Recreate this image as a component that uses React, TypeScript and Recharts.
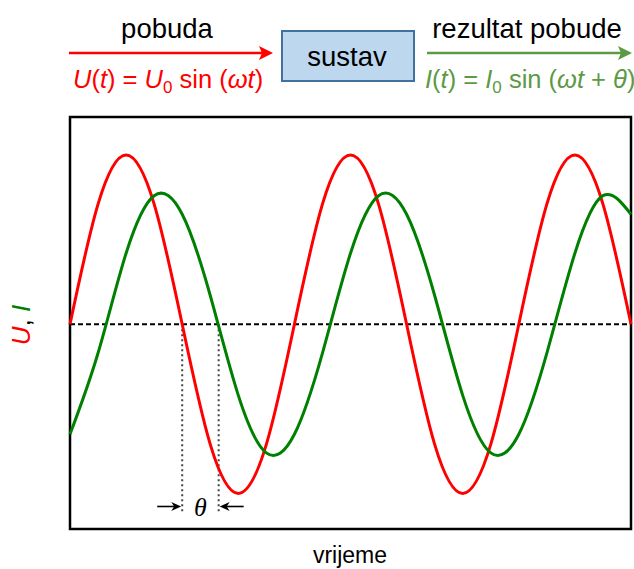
import { LineChart, Line, XAxis, YAxis, ReferenceLine, ReferenceArea, ReferenceDot } from "recharts"

// time in eighths of a period
const times = [0, 1, 2, 3, 4, 5, 6, 7, 8, 9, 10, 11, 12, 13, 14, 15, 16, 17, 18, 19, 20]
const excitation = [0, 0.71, 1, 0.71, 0, -0.71, -1, -0.71, 0, 0.71, 1, 0.71, 0, -0.71, -1, -0.71, 0, 0.71, 1, 0.71, 0]
const response = [-0.65, -0.17, 0.42, 0.76, 0.65, 0.17, -0.42, -0.76, -0.65, -0.17, 0.42, 0.76, 0.65, 0.17, -0.42, -0.76, -0.65, -0.17, 0.42, 0.76, 0.65]

const uZeroCross = 4
const iZeroCross = 5.3
const markerY = -1.077
const guideBottom = -1.11

const data = times.map((t, i) => ({ t, u: excitation[i], i: response[i] }))

const RED = "#ff0000"
const GREEN = "#008000"
const TOP_GREEN = "#5c9a46"
const SANS = "'Liberation Sans', Arial, sans-serif"

const RightArrow = ({ cx, cy }: any) => (
  <g>
    <line x1={cx - 25} y1={cy} x2={cx - 6} y2={cy} stroke="#000" strokeWidth={1.6} />
    <path d={`M${cx - 1},${cy} L${cx - 11},${cy - 4.5} L${cx - 8},${cy} L${cx - 11},${cy + 4.5} Z`} fill="#000" />
  </g>
)

const LeftArrow = ({ cx, cy }: any) => (
  <g>
    <line x1={cx + 6} y1={cy} x2={cx + 25} y2={cy} stroke="#000" strokeWidth={1.6} />
    <path d={`M${cx + 1},${cy} L${cx + 11},${cy - 4.5} L${cx + 8},${cy} L${cx + 11},${cy + 4.5} Z`} fill="#000" />
  </g>
)

export default function App() {
  return (
    <div style={{ position: "absolute", left: 0, top: 0, width: 634, height: 569, background: "#fff" }}>
      <LineChart width={634} height={569} data={data} margin={{ top: 117, right: 3, bottom: 40, left: 70 }}>
        <XAxis dataKey="t" type="number" domain={[0, 20]} hide />
        <YAxis type="number" domain={[-1.21, 1.225]} hide />
        <ReferenceLine y={0} stroke="#000" strokeWidth={2} strokeDasharray="5 3" />
        <ReferenceLine segment={[{ x: uZeroCross, y: 0 }, { x: uZeroCross, y: guideBottom }]} stroke="#444" strokeWidth={2} strokeDasharray="2 3" />
        <ReferenceLine segment={[{ x: iZeroCross, y: 0 }, { x: iZeroCross, y: guideBottom }]} stroke="#444" strokeWidth={2} strokeDasharray="2 3" />
        <Line dataKey="u" type="natural" stroke={RED} strokeWidth={3} dot={false} isAnimationActive={false} />
        <Line dataKey="i" type="natural" stroke={GREEN} strokeWidth={3} dot={false} isAnimationActive={false} />
        <ReferenceDot x={uZeroCross} y={markerY} shape={(p: any) => <RightArrow cx={p.cx} cy={p.cy} />} />
        <ReferenceDot x={iZeroCross} y={markerY} shape={(p: any) => <LeftArrow cx={p.cx} cy={p.cy} />} />
        <ReferenceDot
          x={(uZeroCross + iZeroCross) / 2}
          y={markerY}
          r={0}
          stroke="none"
          label={{ value: "θ", position: "center", fill: "#000", fontSize: 26, fontStyle: "italic", fontFamily: "'Liberation Serif', serif" }}
        />
        <ReferenceArea x1={0} x2={20} y1={-1.21} y2={1.225} fill="none" stroke="#000" strokeWidth={2.5} />
      </LineChart>

      <svg width={634} height={569} style={{ position: "absolute", left: 0, top: 0, pointerEvents: "none" }} fontFamily={SANS}>
        <text x={167} y={38} fontSize={27.5} textAnchor="middle" fill="#000">pobuda</text>
        <line x1={69} y1={53} x2={264} y2={53} stroke={RED} strokeWidth={2.5} />
        <path d="M273,53 L259,46 L262,53 L259,60 Z" fill={RED} />
        <text x={73} y={88} fontSize={25.5} fill={RED}>
          <tspan fontStyle="italic">U</tspan>(<tspan fontStyle="italic">t</tspan>) = <tspan fontStyle="italic">U</tspan>
          <tspan fontSize={17} dy={5}>0</tspan>
          <tspan dy={-5}> sin (</tspan><tspan fontStyle="italic">ωt</tspan>)
        </text>

        <rect x={282} y={31} width={132} height={50} fill="#bdd7ee" stroke="#41719c" strokeWidth={2} />
        <text x={347} y={66} fontSize={27.5} textAnchor="middle" fill="#000">sustav</text>

        <text x={527} y={38} fontSize={27.5} textAnchor="middle" fill="#000">rezultat pobude</text>
        <line x1={427} y1={53} x2={623} y2={53} stroke={TOP_GREEN} strokeWidth={2.5} />
        <path d="M632,53 L618,46 L621,53 L618,60 Z" fill={TOP_GREEN} />
        <text x={425} y={88} fontSize={25.5} fill={TOP_GREEN}>
          <tspan fontStyle="italic">I</tspan>(<tspan fontStyle="italic">t</tspan>) = <tspan fontStyle="italic">I</tspan>
          <tspan fontSize={17} dy={5}>0</tspan>
          <tspan dy={-5}> sin (</tspan><tspan fontStyle="italic">ωt</tspan> + <tspan fontStyle="italic">θ</tspan>)
        </text>

        <text transform="translate(30,325) rotate(-90)" fontSize={26} textAnchor="middle">
          <tspan fontStyle="italic" fill={RED}>U</tspan>
          <tspan fill="#000">, </tspan>
          <tspan fontStyle="italic" fill={GREEN}>I</tspan>
        </text>
        <text x={350} y={563} fontSize={23} textAnchor="middle" fill="#000">vrijeme</text>
      </svg>
    </div>
  )
}
